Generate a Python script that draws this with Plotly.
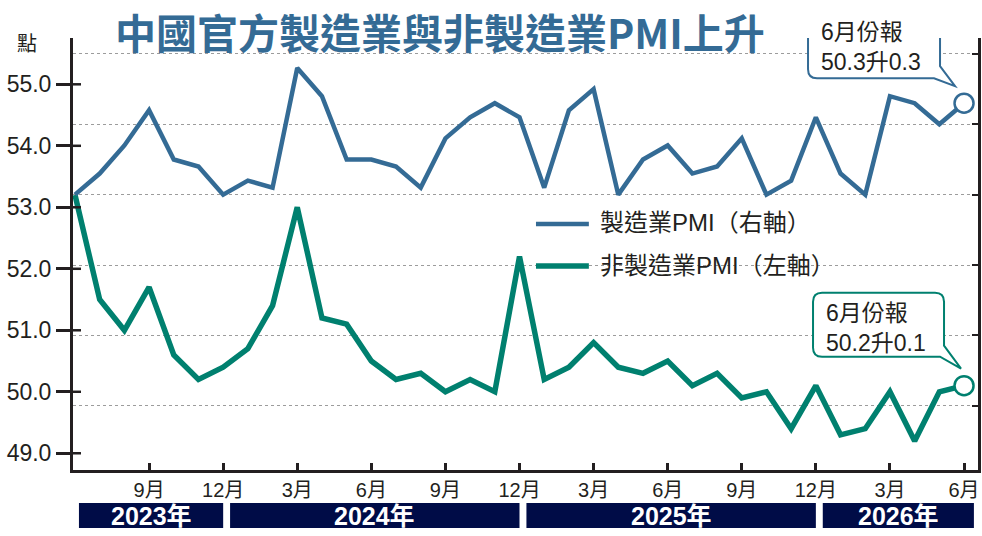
import plotly.graph_objects as go

# ---------------- data ----------------
months = [
    "2023-06", "2023-07", "2023-08", "2023-09", "2023-10", "2023-11", "2023-12",
    "2024-01", "2024-02", "2024-03", "2024-04", "2024-05", "2024-06",
    "2024-07", "2024-08", "2024-09", "2024-10", "2024-11", "2024-12",
    "2025-01", "2025-02", "2025-03", "2025-04", "2025-05", "2025-06",
    "2025-07", "2025-08", "2025-09", "2025-10", "2025-11", "2025-12",
    "2026-01", "2026-02", "2026-03", "2026-04", "2026-05", "2026-06",
]
mfg_pmi = [
    49.0, 49.3, 49.7, 50.2, 49.5, 49.4, 49.0,
    49.2, 49.1, 50.8, 50.4, 49.5, 49.5, 49.4, 49.1, 49.8, 50.1, 50.3, 50.1,
    49.1, 50.2, 50.5, 49.0, 49.5, 49.7, 49.3, 49.4, 49.8, 49.0, 49.2, 50.1,
    49.3, 49.0, 50.4, 50.3, 50.0, 50.3,
]
nonmfg_pmi = [
    53.2, 51.5, 51.0, 51.7, 50.6, 50.2, 50.4,
    50.7, 51.4, 53.0, 51.2, 51.1, 50.5, 50.2, 50.3, 50.0, 50.2, 50.0, 52.2,
    50.2, 50.4, 50.8, 50.4, 50.3, 50.5, 50.1, 50.3, 49.9, 50.0, 49.4, 50.1,
    49.3, 49.4, 50.0, 49.2, 50.0, 50.1,
]
left_ticks = [49.0, 50.0, 51.0, 52.0, 53.0, 54.0, 55.0]
right_ticks = [46, 47, 48, 49, 50, 51]
series_names = ["製造業PMI（右軸）", "非製造業PMI（左軸）"]
callout_texts = ["6月份報<br>50.3升0.3", "6月份報<br>50.2升0.1"]
title_text = "中國官方製造業與非製造業PMI上升"
unit_label = "點"

# ---------------- styling ----------------
BLUE = "#346b95"
GREEN = "#00806f"
NAVY = "#000c47"
INK = "#231f20"
FONT = "Liberation Sans, Noto Sans CJK TC, sans-serif"
CJK_BOLD = "Noto Sans CJK TC, sans-serif"

W, H = 982, 536
ML, MR, MT, MB = 73, 2, 38, 66
PW, PH = W - ML - MR, H - MT - MB


def px(x):
    return (x - ML) / PW


def py(y):
    return (H - MB - y) / PH


idx = list(range(len(months)))
tick_idx = [i for i, m in enumerate(months) if int(m[5:]) % 3 == 0 and i > 0]
tick_txt = [f"{int(months[i][5:])}月" for i in tick_idx]

fig = go.Figure()
fig.add_trace(go.Scatter(x=idx, y=nonmfg_pmi, mode="lines", name=series_names[1],
                         line=dict(color=GREEN, width=5.5), yaxis="y"))
fig.add_trace(go.Scatter(x=idx, y=mfg_pmi, mode="lines", name=series_names[0],
                         line=dict(color=BLUE, width=4.5), yaxis="y2"))
fig.add_trace(go.Scatter(x=[idx[-1]], y=[nonmfg_pmi[-1]], mode="markers", yaxis="y",
                         marker=dict(size=19, color="white", line=dict(color=GREEN, width=2.5)),
                         hoverinfo="skip"))
fig.add_trace(go.Scatter(x=[idx[-1]], y=[mfg_pmi[-1]], mode="markers", yaxis="y2",
                         marker=dict(size=19, color="white", line=dict(color=BLUE, width=2.5)),
                         hoverinfo="skip"))

shapes = []
annotations = []

# inner half of the crossing ticks on the left axis
for v in left_ticks:
    shapes.append(dict(type="line", xref="paper", yref="y", x0=0, x1=8 / PW, y0=v, y1=v,
                       line=dict(color=INK, width=2.5), layer="above"))


def callout(l, r, b, t, rad, tail_y, tip, base_x):
    return (f"M{l + rad},{t} L{r - rad},{t} Q{r},{t} {r},{t - rad} L{r},{tail_y} "
            f"L{tip[0]},{tip[1]} L{base_x},{b} L{l + rad},{b} Q{l},{b} {l},{b + rad} "
            f"L{l},{t - rad} Q{l},{t} {l + rad},{t} Z")


# blue callout (manufacturing, right axis)
shapes.append(dict(type="path", xref="x", yref="y2", xsizemode="pixel", ysizemode="pixel",
                   xanchor=idx[-1], yanchor=mfg_pmi[-1],
                   path=callout(-156, -24, 25, 92, 9, 37, (-9, 17), -30),
                   line=dict(color=BLUE, width=2), fillcolor="white", layer="above"))
annotations.append(dict(xref="x", yref="y2", x=idx[-1], y=mfg_pmi[-1], xanchor="left",
                        yanchor="middle", xshift=-145, yshift=56, align="left",
                        text=callout_texts[0], showarrow=False,
                        font=dict(size=23, color=INK, family=FONT)))
# green callout (non-manufacturing, left axis)
shapes.append(dict(type="path", xref="x", yref="y", xsizemode="pixel", ysizemode="pixel",
                   xanchor=idx[-1], yanchor=nonmfg_pmi[-1],
                   path=callout(-151, -20, 29, 93, 9, 40, (-3, 17), -24),
                   line=dict(color=GREEN, width=2), fillcolor="white", layer="above"))
annotations.append(dict(xref="x", yref="y", x=idx[-1], y=nonmfg_pmi[-1], xanchor="left",
                        yanchor="middle", xshift=-140, yshift=58, align="left",
                        text=callout_texts[1], showarrow=False,
                        font=dict(size=23, color=INK, family=FONT)))

# legend (manual)
for name, col, yy, wdt in [(series_names[0], BLUE, 224, 4.5), (series_names[1], GREEN, 266, 5.5)]:
    shapes.append(dict(type="line", xref="paper", yref="paper", x0=px(537), x1=px(590),
                       y0=py(yy), y1=py(yy), line=dict(color=col, width=wdt)))
    annotations.append(dict(xref="paper", yref="paper", x=px(599), y=py(yy - 1),
                            xanchor="left", yanchor="middle", text=name, showarrow=False,
                            font=dict(size=24, color=INK, family=FONT)))

# year bars
years = sorted({m[:4] for m in months})
for k, yr in enumerate(years):
    inds = [i for i, m in enumerate(months) if m[:4] == yr]
    start = (inds[0] - 1 + 0.28) if k > 0 else inds[0] + 0.16
    end = inds[-1] if k < len(years) - 1 else inds[-1] + 0.4
    shapes.append(dict(type="rect", xref="x", yref="paper", x0=start, x1=end,
                       y0=py(528), y1=py(503), fillcolor=NAVY, line=dict(width=0)))
    annotations.append(dict(xref="x", yref="paper", x=(start + end) / 2, y=py(515.5),
                            xanchor="center", yanchor="middle", text=f"<b>{yr}年</b>",
                            showarrow=False, font=dict(size=25, color="white", family=FONT)))

# title and unit
annotations.append(dict(xref="paper", yref="paper", x=px(441), y=py(31), xanchor="center",
                        yanchor="middle", text=f"<b>{title_text}</b>", showarrow=False,
                        font=dict(size=41, color=BLUE, family=CJK_BOLD)))
annotations.append(dict(xref="paper", yref="paper", x=px(27), y=py(44), xanchor="center",
                        yanchor="middle", text=unit_label, showarrow=False,
                        font=dict(size=20, color=INK, family=FONT)))

fig.update_layout(
    width=W, height=H,
    margin=dict(l=ML, r=MR, t=MT, b=MB, pad=0),
    paper_bgcolor="white", plot_bgcolor="white",
    showlegend=False,
    font=dict(family=FONT, color=INK),
    xaxis=dict(range=[-2 / 24.75, 36 + 14 / 24.75], tickmode="array", tickvals=tick_idx,
               ticktext=tick_txt, ticks="inside", ticklen=7, tickwidth=2.5, tickcolor=INK,
               showline=True, linewidth=2.5, linecolor=INK, showgrid=False, zeroline=False,
               tickfont=dict(size=20, color=INK), ticklabelstandoff=0),
    yaxis=dict(range=[48.728, 55.753], tickmode="array", tickvals=left_ticks,
               ticktext=[f"{v:.1f}" for v in left_ticks], ticks="outside", ticklen=14,
               tickwidth=2.5, tickcolor=INK, showline=True, linewidth=3, linecolor=INK,
               showgrid=False, zeroline=False, tickfont=dict(size=23, color=INK)),
    yaxis2=dict(range=[45.086, 51.227], overlaying="y", side="right", tickmode="array",
                tickvals=right_ticks, showticklabels=False, ticks="inside", ticklen=6,
                tickwidth=2, tickcolor=INK, showline=True, linewidth=3, linecolor=INK,
                showgrid=True, gridcolor="#9c9c9c", griddash="dot", gridwidth=1,
                zeroline=False),
    shapes=shapes,
    annotations=annotations,
)

fig.write_html(
    "out.html",
    config={"displayModeBar": False},
    post_script="document.body.style.margin='0px';document.body.style.overflow='hidden';",
)
